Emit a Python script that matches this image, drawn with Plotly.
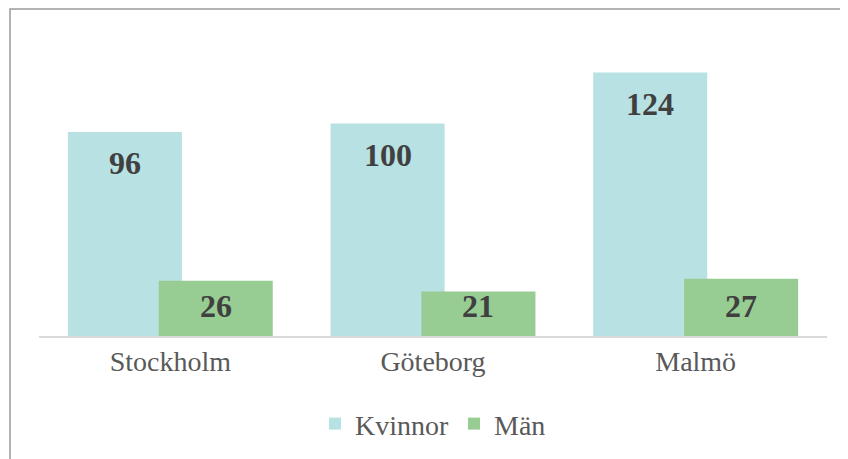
import plotly.graph_objects as go

cities = ["Stockholm", "Göteborg", "Malmö"]
kvinnor = [96, 100, 124]
man = [26, 21, 27]
series_names = ["Kvinnor", "Män"]
colors = ["#B7E1E3", "#97CD93"]

BAR_W = 0.434
offsets = [-0.39, -0.044]

SERIF = "Liberation Serif, Times New Roman, serif"

fig = go.Figure()
for name, vals, col, off in zip(series_names, [kvinnor, man], colors, offsets):
    fig.add_trace(go.Bar(
        x=cities, y=vals, name=name,
        marker=dict(color=col, line=dict(width=0)),
        width=BAR_W, offset=off,
    ))

LABEL_FONT = dict(family=SERIF, size=32, color="#404040")

annotations = []
# Kvinnor: labels near the top of each bar
for i, v in enumerate(kvinnor):
    annotations.append(dict(
        x=i + offsets[0] + BAR_W / 2, y=v, xref="x", yref="y",
        text=f"<b>{v}</b>", showarrow=False,
        yanchor="middle", yshift=-31, font=LABEL_FONT,
    ))
# Män: labels at a fixed height above the baseline
for i, v in enumerate(man):
    annotations.append(dict(
        x=i + offsets[1] + BAR_W / 2, y=0, xref="x", yref="y",
        text=f"<b>{v}</b>", showarrow=False,
        yanchor="middle", yshift=30, font=LABEL_FONT,
    ))

L, R, T, B = 31, 29, 30, 131
ph = 459 - T - B
pw = 848 - L - R
top_y = (459 - B - 1) / ph
left_x = (2 - L) / pw

fig.update_layout(
    width=848, height=459,
    margin=dict(l=L, r=R, t=T, b=B, pad=0),
    barmode="overlay",
    paper_bgcolor="white", plot_bgcolor="white",
    font=dict(family=SERIF, color="#595959"),
    xaxis=dict(
        showgrid=False, showline=True, linecolor="#D9D9D9", linewidth=1.5,
        ticks="", tickfont=dict(family=SERIF, size=28, color="#595959"),
        range=[-0.5, 2.5],
    ),
    yaxis=dict(visible=False, range=[0, ph / 2.125]),
    showlegend=True,
    legend=dict(
        orientation="h", x=0.5, xanchor="center", y=-0.295, yanchor="middle",
        font=dict(family=SERIF, size=28, color="#595959"), itemwidth=30,
        traceorder="normal",
    ),
    annotations=annotations,
    shapes=[dict(
        type="rect", xref="paper", yref="paper",
        x0=left_x, x1=1.5, y0=-1, y1=top_y,
        line=dict(color="#9A9A9A", width=1.5), fillcolor="rgba(0,0,0,0)",
        layer="below",
    )],
)

fig.write_html("out.html")
